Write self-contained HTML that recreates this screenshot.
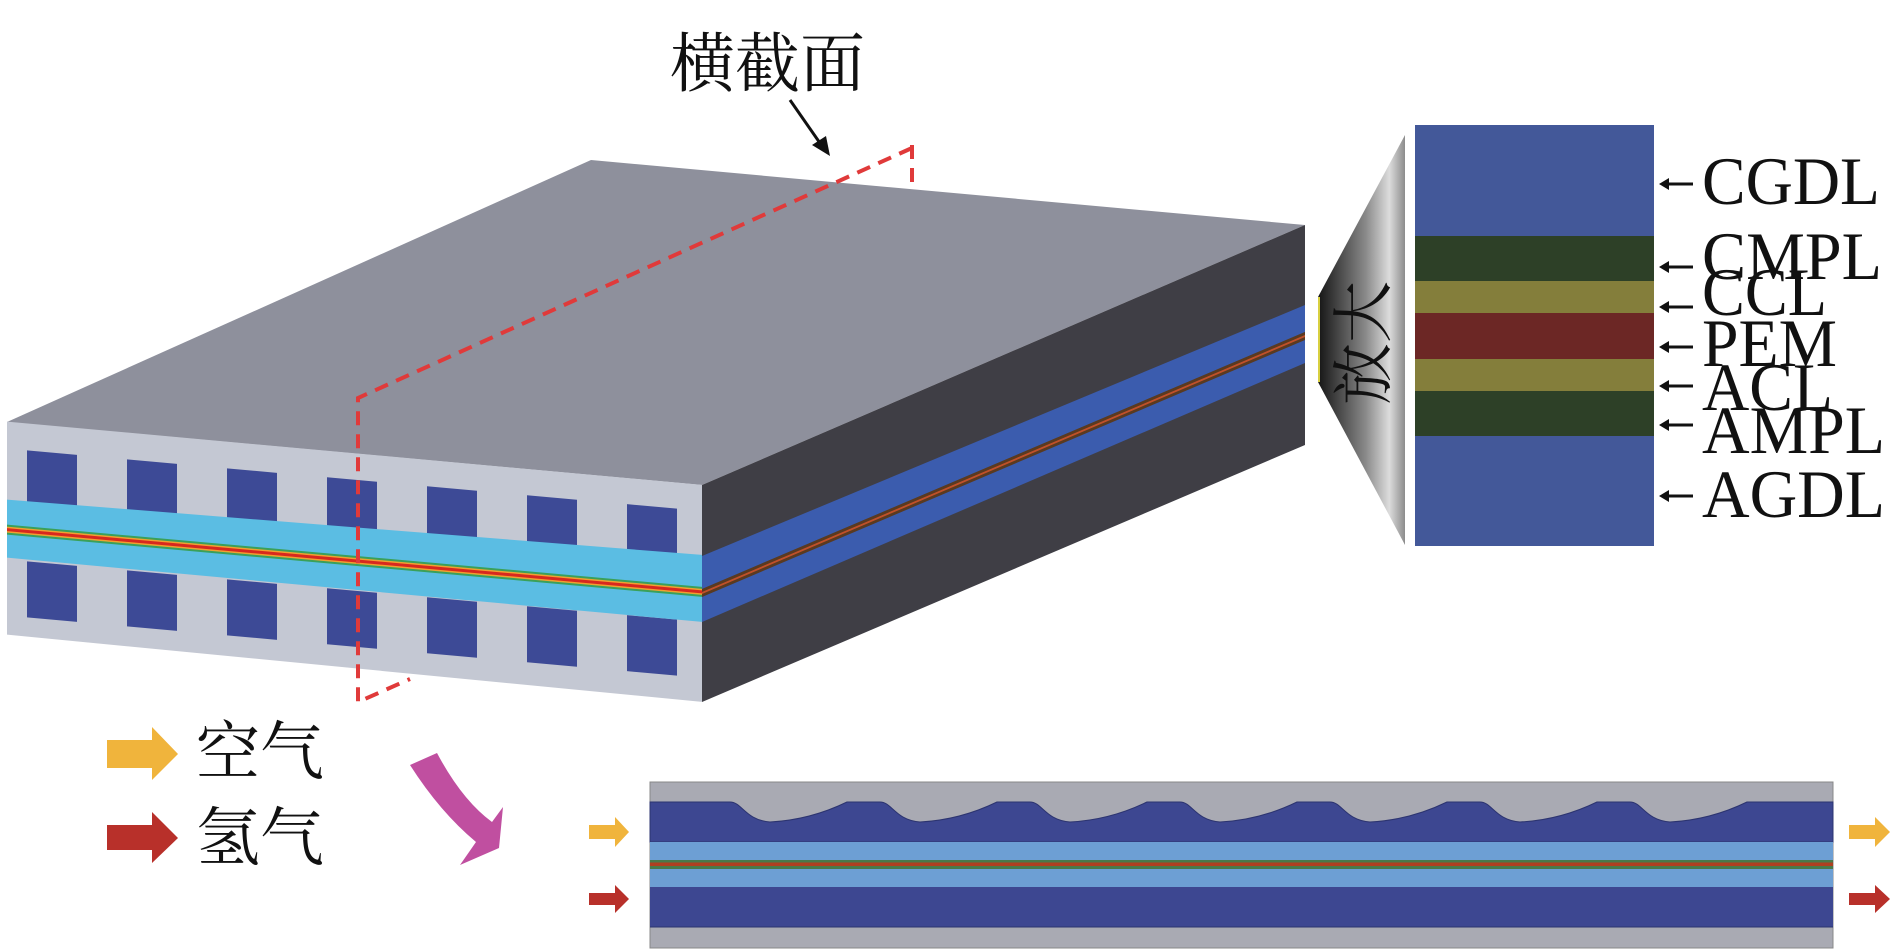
<!DOCTYPE html>
<html><head><meta charset="utf-8"><style>
html,body{margin:0;padding:0;background:#fff;}
svg{display:block;}
</style></head><body>
<svg width="1890" height="952" viewBox="0 0 1890 952" xmlns="http://www.w3.org/2000/svg">
<defs>
<linearGradient id="fun" x1="0" y1="0" x2="1" y2="0">
<stop offset="0" stop-color="#151515"/><stop offset="0.55" stop-color="#8a8a8a"/><stop offset="0.82" stop-color="#dcdcdc"/><stop offset="1" stop-color="#8c8c8c"/>
</linearGradient>
</defs>
<!-- top face -->
<polygon points="7,422 591,160 1305,225 702,485" fill="#8e909c"/>
<!-- side face -->
<polygon points="702,485 1305,225 1305,445 702,702" fill="#3f3e45"/>
<polygon points="702,556 1305,305 1305,332 702,589" fill="#3b5cae"/>
<polygon points="702,589 1305,332 1305,340 702,597" fill="#5a3a20"/>
<polygon points="702,592 1305,335 1305,337 702,594" fill="#c0502a"/>
<polygon points="702,597 1305,340 1305,363 702,622" fill="#3b5cae"/>
<!-- front face (skewed) -->
<g transform="matrix(1,0.0896,0,1,0,0)">
<polygon points="7,421 702,422 702,639 7,634" fill="#c4c8d3"/>
<g fill="#3d4a96">
<rect x="27" y="448" width="50" height="56"/><rect x="127" y="448" width="50" height="56"/><rect x="227" y="448" width="50" height="56"/><rect x="327" y="448" width="50" height="56"/><rect x="427" y="448" width="50" height="56"/><rect x="527" y="448" width="50" height="56"/><rect x="627" y="448" width="50" height="56"/>
<rect x="27" y="559" width="50" height="56"/><rect x="127" y="559" width="50" height="56"/><rect x="227" y="559" width="50" height="56"/><rect x="327" y="559" width="50" height="56"/><rect x="427" y="559" width="50" height="56"/><rect x="527" y="559" width="50" height="56"/><rect x="627" y="559" width="50" height="56"/>
</g>
<polygon points="7,499 702,492 702,559 7,557" fill="#5bbde3"/>
<rect x="7" y="524" width="695" height="10" fill="#3aa05a"/>
<rect x="7" y="526" width="695" height="6" fill="#f0a030"/>
<rect x="7" y="527.5" width="695" height="3" fill="#d8281e"/>
</g>
<!-- dashed cross section -->
<g fill="none" stroke="#e03a3a" stroke-width="4" stroke-dasharray="14 9">
<polyline points="912,148 358,398 358,702 410,679"/>
<line x1="912" y1="145" x2="912" y2="190"/>
</g>
<!-- title -->
<text x="670" y="86" font-family="'Liberation Serif','Noto Serif CJK SC',serif" font-size="65" fill="#111">横截面</text>
<line x1="790" y1="100" x2="822" y2="146" stroke="#111" stroke-width="3"/>
<polygon points="830,156 812,145 826,136" fill="#111"/>
<!-- funnel -->
<polygon points="1318,297 1405,135 1405,545 1318,382" fill="url(#fun)"/>
<line x1="1319" y1="297" x2="1319" y2="382" stroke="#d8d040" stroke-width="2"/>
<text x="0" y="0" transform="translate(1385,343) rotate(-90)" text-anchor="middle" font-family="'Liberation Serif','Noto Serif CJK SC',serif" font-size="62" fill="#111">放大</text>
<!-- layers panel -->
<rect x="1415" y="125" width="239" height="111" fill="#435899"/>
<rect x="1415" y="236" width="239" height="45" fill="#2d4027"/>
<rect x="1415" y="281" width="239" height="32" fill="#847e3b"/>
<rect x="1415" y="313" width="239" height="46" fill="#6c2725"/>
<rect x="1415" y="359" width="239" height="32" fill="#847e3b"/>
<rect x="1415" y="391" width="239" height="45" fill="#2d4027"/>
<rect x="1415" y="436" width="239" height="110" fill="#435899"/>
<g stroke="#111" stroke-width="3">
<line x1="1665" y1="184" x2="1693" y2="184"/><line x1="1665" y1="267" x2="1693" y2="267"/><line x1="1665" y1="307" x2="1693" y2="307"/><line x1="1665" y1="347" x2="1693" y2="347"/><line x1="1665" y1="386" x2="1693" y2="386"/><line x1="1665" y1="425" x2="1693" y2="425"/><line x1="1665" y1="496" x2="1693" y2="496"/>
</g>
<g fill="#111">
<polygon points="1659,184 1669,178 1669,190"/><polygon points="1659,267 1669,261 1669,273"/><polygon points="1659,307 1669,301 1669,313"/><polygon points="1659,347 1669,341 1669,353"/><polygon points="1659,386 1669,380 1669,392"/><polygon points="1659,425 1669,419 1669,431"/><polygon points="1659,496 1669,490 1669,502"/>
</g>
<g font-family="'Liberation Serif',serif" font-size="68" fill="#111" lengthAdjust="spacingAndGlyphs">
<text x="1702" y="204" textLength="178" lengthAdjust="spacingAndGlyphs">CGDL</text>
<text x="1702" y="279" textLength="180" lengthAdjust="spacingAndGlyphs">CMPL</text>
<text x="1702" y="315" textLength="125" lengthAdjust="spacingAndGlyphs">CCL</text>
<text x="1702" y="366" textLength="135" lengthAdjust="spacingAndGlyphs">PEM</text>
<text x="1702" y="410" textLength="131" lengthAdjust="spacingAndGlyphs">ACL</text>
<text x="1702" y="453" textLength="183" lengthAdjust="spacingAndGlyphs">AMPL</text>
<text x="1702" y="517" textLength="183" lengthAdjust="spacingAndGlyphs">AGDL</text>
</g>
<!-- legend -->
<polygon points="107,740 152,740 152,727 178,754 152,780 152,768 107,768" fill="#f0b43c"/>
<polygon points="107,825 152,825 152,812 178,838 152,863 152,850 107,850" fill="#b8302a"/>
<text x="196" y="774" font-family="'Liberation Serif','Noto Serif CJK SC',serif" font-size="64" fill="#111">空气</text>
<text x="196" y="860" font-family="'Liberation Serif','Noto Serif CJK SC',serif" font-size="64" fill="#111">氢气</text>
<path d="M437,753 Q462,800 492,822 L503,807 L499,848 L460,865 L476,842 Q440,812 410,765 Z" fill="#c04fa0"/>
<!-- bottom panel -->
<rect x="650" y="782" width="1183" height="166" fill="#a9aab3" stroke="#888" stroke-width="1"/>
<path d="M650,802 L730,802 C742,802 745,820 770,822 Q810,820 847,802 L880,802 C892,802 895,820 920,822 Q960,820 997,802 L1030,802 C1042,802 1045,820 1070,822 Q1110,820 1147,802 L1180,802 C1192,802 1195,820 1220,822 Q1260,820 1297,802 L1330,802 C1342,802 1345,820 1370,822 Q1410,820 1447,802 L1480,802 C1492,802 1495,820 1520,822 Q1560,820 1597,802 L1630,802 C1642,802 1645,820 1670,822 Q1710,820 1747,802 L1833,802 L1833,842 L650,842 Z" fill="#3d4791" stroke="#2c3470" stroke-width="1"/>
<rect x="650" y="842" width="1183" height="18" fill="#6d9fd4"/>
<rect x="650" y="860" width="1183" height="9" fill="#4a7a4a"/>
<rect x="650" y="862.5" width="1183" height="3.5" fill="#b04020"/>
<rect x="650" y="869" width="1183" height="18" fill="#6d9fd4"/>
<rect x="650" y="887" width="1183" height="40" fill="#3d4791"/>
<line x1="650" y1="927" x2="1833" y2="927" stroke="#2c3470" stroke-width="1"/>
<!-- flow arrows -->
<polygon points="589,825 615,825 615,817 629,832 615,847 615,839 589,839" fill="#f0b43c"/>
<polygon points="589,893 615,893 615,885 629,899 615,913 615,905 589,905" fill="#b8302a"/>
<polygon points="1849,825 1875,825 1875,817 1890,832 1875,847 1875,839 1849,839" fill="#f0b43c"/>
<polygon points="1849,893 1875,893 1875,885 1890,899 1875,913 1875,905 1849,905" fill="#b8302a"/>
</svg>
</body></html>
